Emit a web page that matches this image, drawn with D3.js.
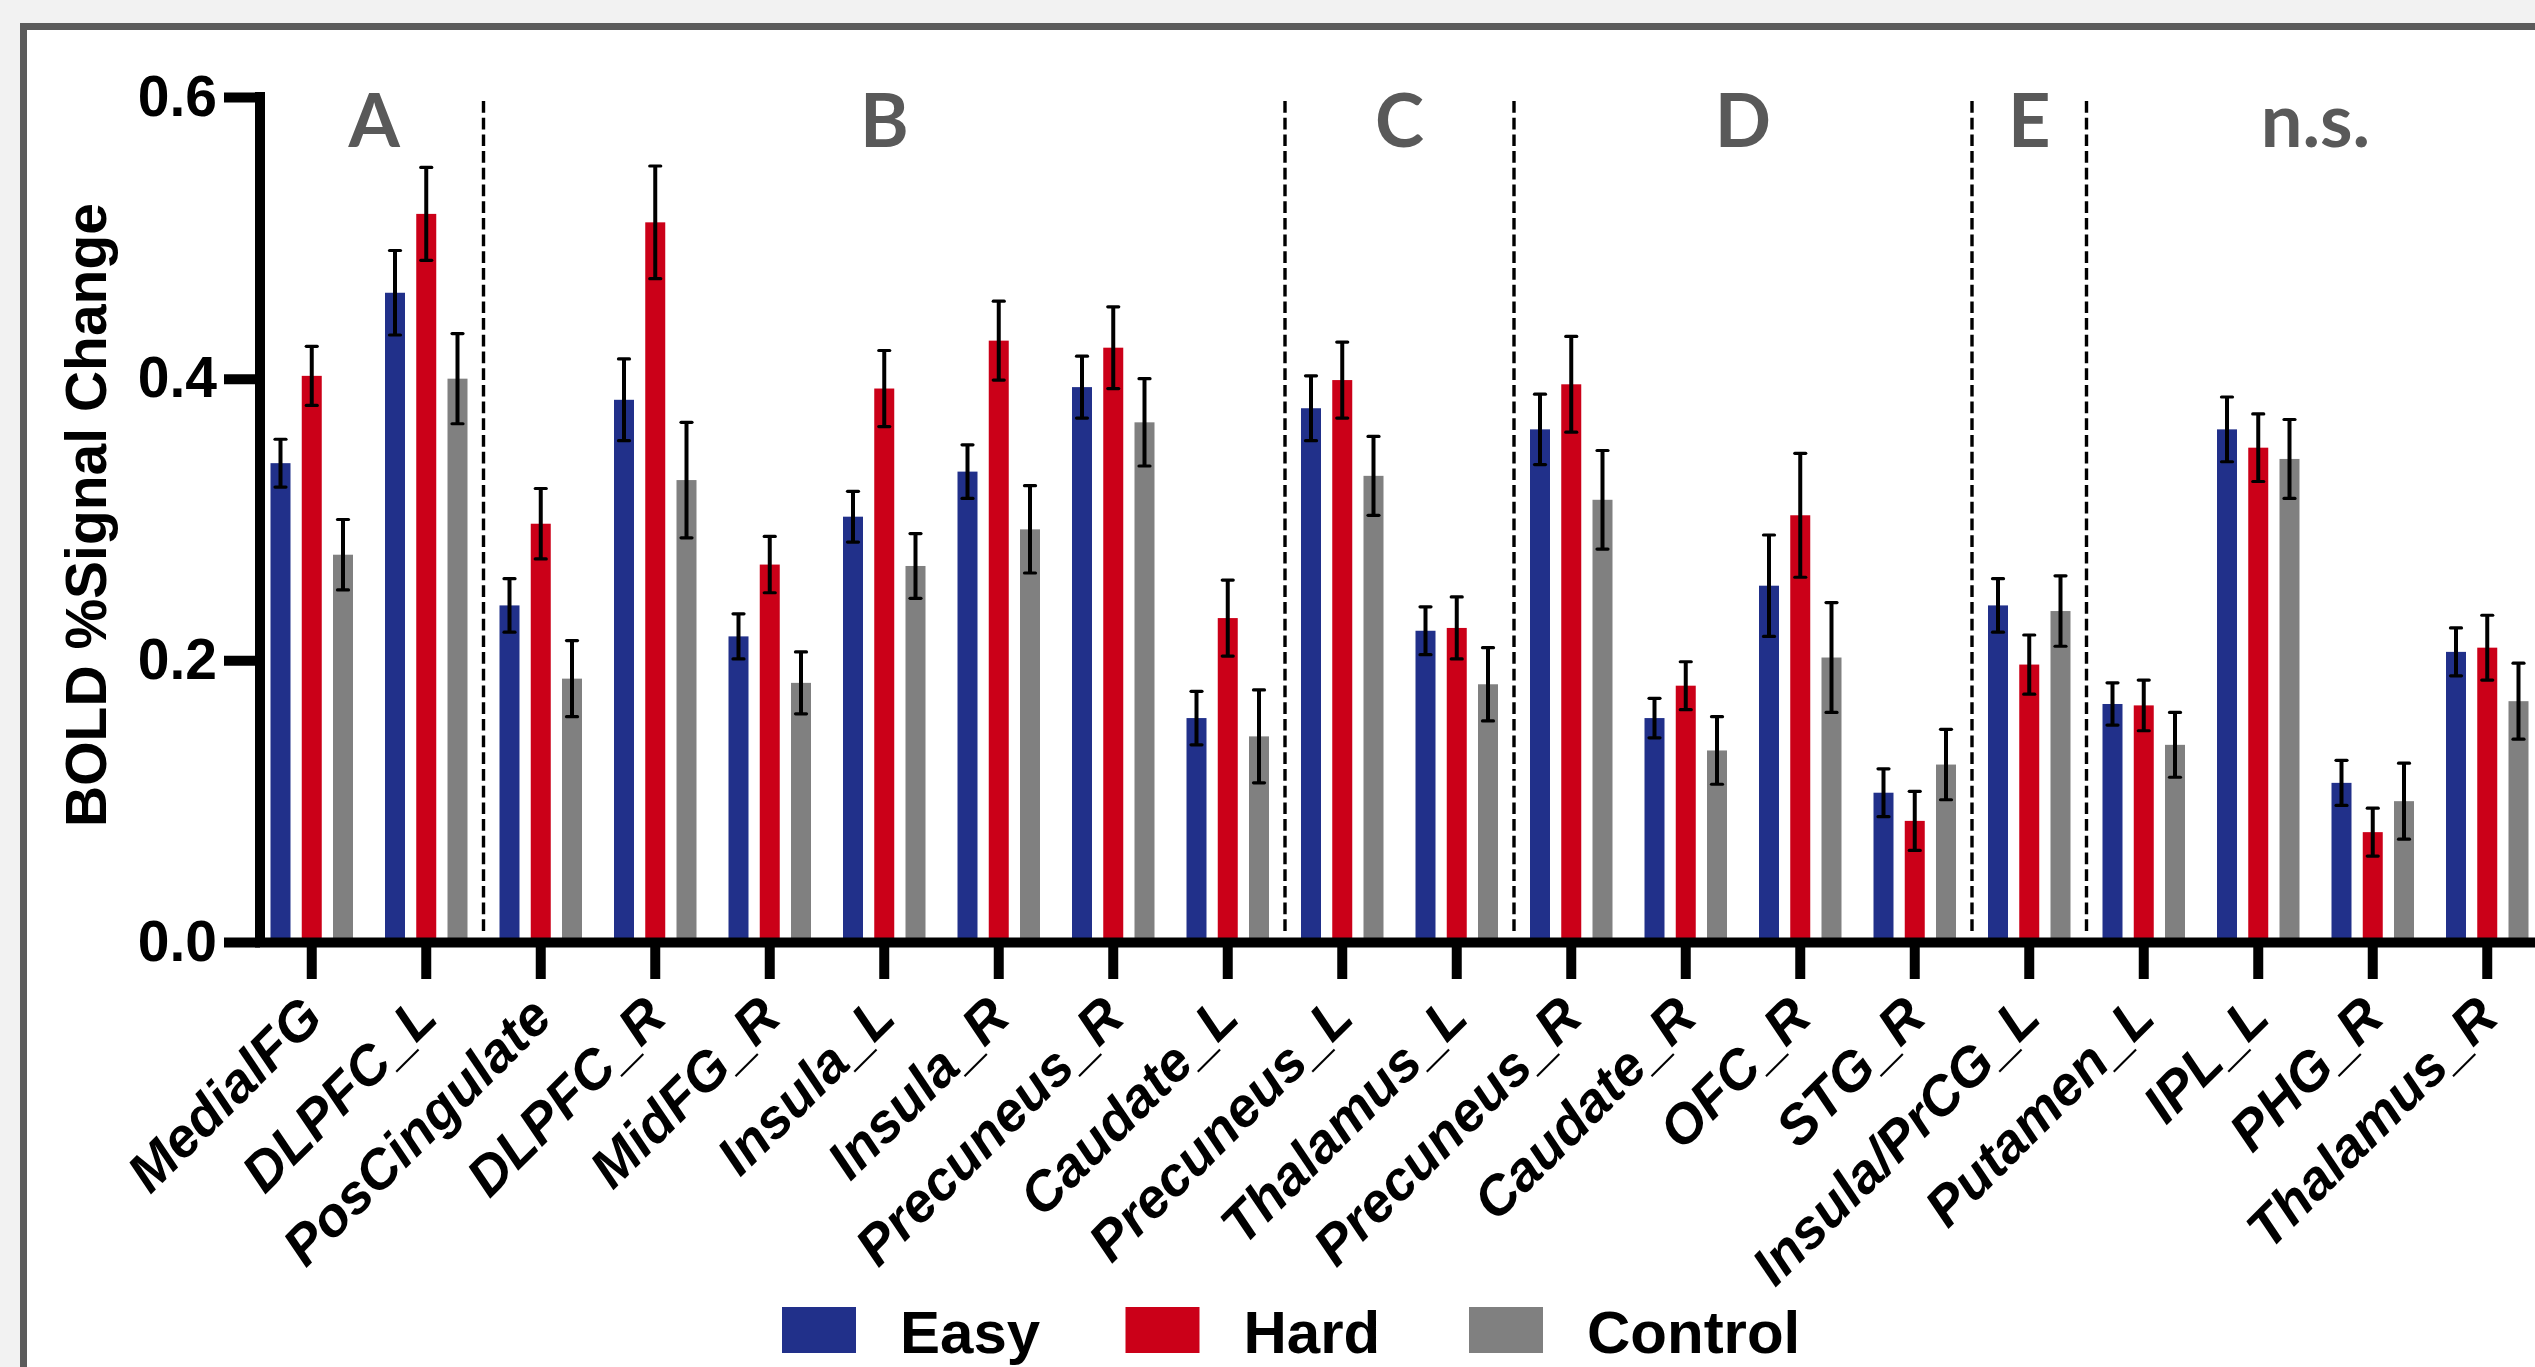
<!DOCTYPE html>
<html>
<head>
<meta charset="utf-8">
<script src="https://cdn.jsdelivr.net/npm/d3@7"></script>
<style>
body { margin: 0; background: #f2f2f2; overflow: hidden; }
</style>
</head>
<body>
<script>
var width = 2535;
var height = 1367;

// regions along the x axis
var regions = ["MedialFG", "DLPFC_L", "PosCingulate", "DLPFC_R", "MidFG_R", "Insula_L", "Insula_R",
               "Precuneus_R", "Caudate_L", "Precuneus_L", "Thalamus_L", "Precuneus_R", "Caudate_R",
               "OFC_R", "STG_R", "Insula/PrCG_L", "Putamen_L", "IPL_L", "PHG_R", "Thalamus_R"];

var seriesNames = ["Easy", "Hard", "Control"];

var easy    = [0.340, 0.461, 0.239, 0.385, 0.217, 0.302, 0.334, 0.394, 0.159, 0.379,
               0.221, 0.364, 0.159, 0.253, 0.106, 0.239, 0.169, 0.364, 0.113, 0.206];
var hard    = [0.402, 0.517, 0.297, 0.511, 0.268, 0.393, 0.427, 0.422, 0.230, 0.399,
               0.223, 0.396, 0.182, 0.303, 0.086, 0.197, 0.168, 0.351, 0.078, 0.209];
var control = [0.275, 0.400, 0.187, 0.328, 0.184, 0.267, 0.293, 0.369, 0.146, 0.331,
               0.183, 0.314, 0.136, 0.202, 0.126, 0.235, 0.140, 0.343, 0.100, 0.171];

// SEM
var easyErr    = [0.017, 0.030, 0.019, 0.029, 0.016, 0.018, 0.019, 0.022, 0.019, 0.023,
                  0.017, 0.025, 0.014, 0.036, 0.017, 0.019, 0.015, 0.023, 0.016, 0.017];
var hardErr    = [0.021, 0.033, 0.025, 0.040, 0.020, 0.027, 0.028, 0.029, 0.027, 0.027,
                  0.022, 0.034, 0.017, 0.044, 0.021, 0.021, 0.018, 0.024, 0.017, 0.023];
var controlErr = [0.025, 0.032, 0.027, 0.041, 0.022, 0.023, 0.031, 0.031, 0.033, 0.028,
                  0.026, 0.035, 0.024, 0.039, 0.025, 0.025, 0.023, 0.028, 0.027, 0.027];

var groupLabels = ["A", "B", "C", "D", "E", "n.s."];
var groupSizes  = [2, 7, 2, 4, 1, 4];

var yTicks = [0, 0.2, 0.4, 0.6];

var colors = ["#21308a", "#cb0018", "#808080"];

var values = [easy, hard, control];
var errs = [easyErr, hardErr, controlErr];

var svg = d3.select("body").append("svg")
            .attr("width", width)
            .attr("height", height);

// frame
svg.append("rect")
   .attr("x", 23.5)
   .attr("y", 26.5)
   .attr("width", width + 100)
   .attr("height", height + 100)
   .attr("fill", "white")
   .attr("stroke", "#5b5b5b")
   .attr("stroke-width", 7);

var axisX = 260;
var axisY = 942;

var y = d3.scaleLinear()
          .domain([0, 0.6])
          .range([axisY, 97]);

var idx = d3.range(regions.length);
var x = d3.scaleBand()
          .domain(idx)
          .range([254.5, 254.5 + regions.length * 114.5])
          .padding(0);

var xs = d3.scaleBand()
           .domain(seriesNames)
           .range([0, 82.5])
           .paddingInner(0.36)
           .paddingOuter(0);

var groupOffset = (x.bandwidth() - 82.5) / 2;

// dashed dividers + group letters
var start = 0;
groupSizes.forEach(function(n, g) {
  var x0 = x(start);
  var x1 = start + n < regions.length ? x(start + n) : x.range()[1];
  if (g > 0) {
    svg.append("line")
       .attr("x1", x0).attr("x2", x0)
       .attr("y1", y(0.6) + 4).attr("y2", axisY - 7)
       .attr("stroke", "black")
       .attr("stroke-width", 3.4)
       .attr("stroke-dasharray", "11.7,5");
  } else {
    x0 = axisX + 5; // first group starts at the axis line
  }
  svg.append("text")
     .attr("x", (x0 + x1) / 2)
     .attr("y", 147)
     .attr("text-anchor", "middle")
     .attr("font-family", "Lato, 'Open Sans', sans-serif")
     .attr("font-weight", "bold")
     .attr("font-size", 74)
     .attr("fill", "#595959")
     .text(groupLabels[g]);
  start += n;
});

// bars
seriesNames.forEach(function(s, k) {
  var gs = svg.append("g");
  gs.selectAll("rect")
    .data(idx)
    .enter().append("rect")
    .attr("x", function(i) { return x(i) + groupOffset + xs(s); })
    .attr("y", function(i) { return y(values[k][i]); })
    .attr("width", xs.bandwidth())
    .attr("height", function(i) { return axisY - y(values[k][i]); })
    .attr("fill", colors[k]);

  var eb = svg.append("g").attr("stroke", "black");
  idx.forEach(function(i) {
    var cx = x(i) + groupOffset + xs(s) + xs.bandwidth() / 2;
    var lo = y(values[k][i] - errs[k][i]);
    var hi = y(values[k][i] + errs[k][i]);
    eb.append("line")
      .attr("x1", cx).attr("x2", cx)
      .attr("y1", lo).attr("y2", hi)
      .attr("stroke-width", 4);
    [lo, hi].forEach(function(yy) {
      eb.append("line")
        .attr("x1", cx - 5.5).attr("x2", cx + 5.5)
        .attr("y1", yy).attr("y2", yy)
        .attr("stroke-width", 3.2)
        .attr("stroke-linecap", "round");
    });
  });
});

// y axis
var yAxis = svg.append("g")
               .attr("transform", "translate(" + axisX + ",0)")
               .call(d3.axisLeft(y)
                       .tickValues(yTicks)
                       .tickFormat(d3.format(".1f"))
                       .tickSize(36)
                       .tickSizeOuter(0)
                       .tickPadding(7));
yAxis.select(".domain").attr("stroke-width", 10).attr("d", "M0," + (axisY + 5) + "V" + (y(0.6) - 5));
yAxis.selectAll(".tick line").attr("stroke-width", 10);
yAxis.selectAll("text")
     .attr("font-family", "'Liberation Sans', Arial, sans-serif")
     .attr("font-weight", "bold")
     .attr("font-size", 57)
     .attr("fill", "black");

// x axis
var xAxis = svg.append("g")
               .attr("transform", "translate(0," + axisY + ")")
               .call(d3.axisBottom(x)
                       .tickFormat(function(i) { return regions[i]; })
                       .tickSize(37)
                       .tickSizeOuter(0));
xAxis.select(".domain").attr("stroke-width", 10);
xAxis.selectAll(".tick line").attr("stroke-width", 10);
xAxis.selectAll("text")
     .attr("x", 0)
     .attr("y", 0)
     .attr("dy", "0.35em")
     .attr("text-anchor", "end")
     .attr("transform", "translate(0,64.6) rotate(-45)")
     .attr("font-family", "'Liberation Sans', Arial, sans-serif")
     .attr("font-weight", "bold")
     .attr("font-style", "italic")
     .attr("font-size", 55)
     .attr("fill", "black");

// y title
svg.append("text")
   .attr("transform", "translate(106,515) rotate(-90)")
   .attr("text-anchor", "middle")
   .attr("font-family", "'Liberation Sans', Arial, sans-serif")
   .attr("font-weight", "bold")
   .attr("font-size", 57)
   .text("BOLD %Signal Change");

// legend
var legend = svg.append("g")
                .attr("transform", "translate(782,1307)");
seriesNames.forEach(function(s, k) {
  var lg = legend.append("g").attr("transform", "translate(" + (k * 343.5) + ",0)");
  lg.append("rect")
    .attr("width", 74)
    .attr("height", 46)
    .attr("fill", colors[k]);
  lg.append("text")
    .attr("x", 118)
    .attr("y", 46)
    .attr("font-family", "'Liberation Sans', Arial, sans-serif")
    .attr("font-weight", "bold")
    .attr("font-size", 60)
    .text(s);
});
</script>
</body>
</html>
